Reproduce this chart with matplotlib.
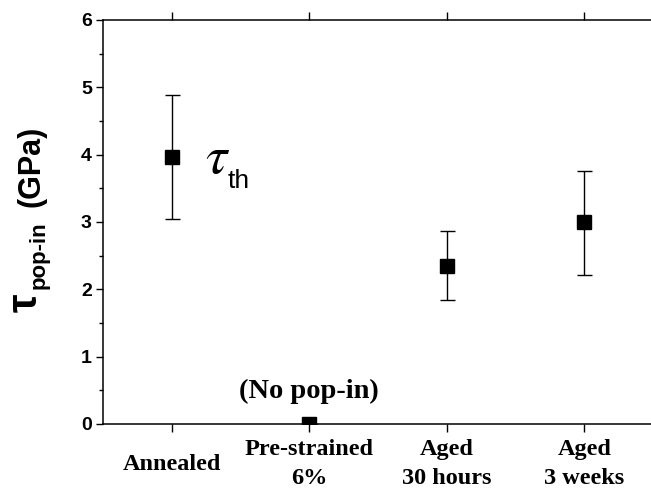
import matplotlib
matplotlib.use('Agg')
import matplotlib.pyplot as plt
from matplotlib.ticker import MultipleLocator

# data
samples = ['Annealed', 'Pre-strained\n6%', 'Aged\n30 hours', 'Aged\n3 weeks']
tau_pop_in = [3.97, 0.0, 2.35, 3.00]
err_up = [0.91, 0.0, 0.51, 0.76]
err_down = [0.93, 0.0, 0.51, 0.78]
x = [1, 2, 3, 4]

plt.rcParams['mathtext.fontset'] = 'stix'

W, H = 651, 488
fig = plt.figure(figsize=(W / 100, H / 100), dpi=100)
ax = fig.add_axes([103 / W, 1 - 424 / H, 550 / W, 404 / H])

ax.errorbar(x, tau_pop_in, yerr=[err_down, err_up], fmt='s', color='black',
            markersize=10, elinewidth=1.0, capsize=5.4, capthick=1.0)

ax.set_xlim(0.5, 4.5)
ax.set_ylim(0, 6)
ax.yaxis.set_major_locator(MultipleLocator(1))
ax.yaxis.set_minor_locator(MultipleLocator(0.5))
ax.set_xticks(x)
ax.set_xticklabels(samples, fontfamily='Liberation Serif', fontweight='bold',
                   fontsize=17.5, linespacing=1.5, va='center')

for s in ax.spines.values():
    s.set_linewidth(1.1)
ax.spines['right'].set_visible(False)

ax.tick_params(axis='x', which='both', direction='out', top=True, length=6,
               width=1.0, pad=23)
ax.tick_params(axis='y', which='major', direction='out', length=5, width=1.0, pad=3)
ax.tick_params(axis='y', which='minor', direction='out', length=3, width=1.0)
for lab in ax.get_yticklabels():
    lab.set_fontfamily('Liberation Sans')
    lab.set_fontweight('bold')
    lab.set_fontsize(14)

# y label built from pieces
fig.text(26 / W, 1 - 303 / H, '\u03c4', rotation=90, fontsize=30, fontweight='bold',
         family='Liberation Sans', ha='center', va='center')
fig.text(39 / W, 1 - 255 / H, 'pop-in', rotation=90, fontsize=16, fontweight='bold',
         family='Liberation Sans', ha='center', va='center')
fig.text(32 / W, 1 - 166 / H, '(GPa)', rotation=90, fontsize=22, fontweight='bold',
         family='Liberation Sans', ha='center', va='center')

# annotations
ax.text(1.245, 3.73, r'$\tau$', fontsize=39, ha='left', va='baseline')
ax.text(1.405, 3.505, 'th', fontsize=19, family='Liberation Sans',
        ha='left', va='baseline')
ax.text(2.0, 0.49, '(No pop-in)', fontsize=20.5, fontweight='bold',
        family='Liberation Serif', ha='center', va='center')

fig.savefig('out.png', dpi=100)
